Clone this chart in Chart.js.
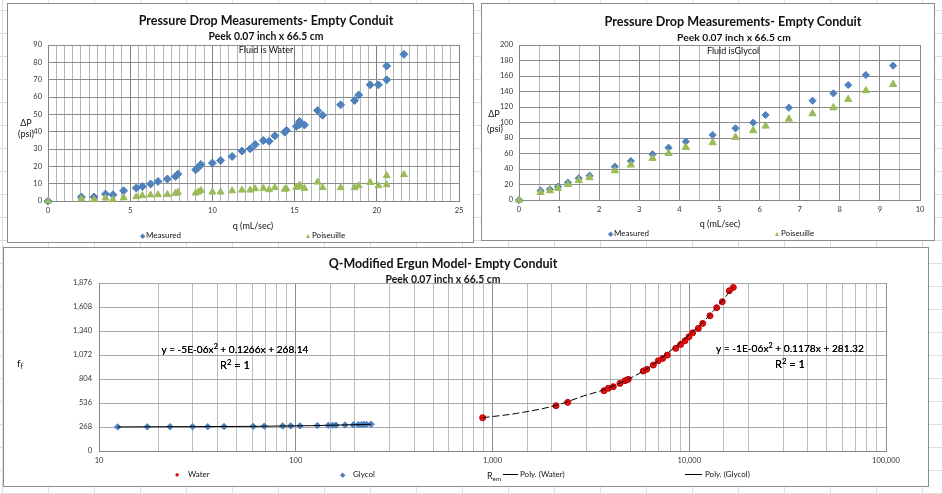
<!DOCTYPE html>
<html><head><meta charset="utf-8">
<script src="https://cdn.jsdelivr.net/npm/chart.js@4.4.1/dist/chart.umd.min.js"></script>
<style>
html,body{margin:0;padding:0}
body{width:942px;height:494px;position:relative;overflow:hidden;background-color:#fff;
background-image:linear-gradient(to right,#dcdcdc 1px,transparent 1px),linear-gradient(to bottom,#dcdcdc 1px,transparent 1px);
background-size:46px 100%,100% 23px;background-position:2px 0,0 10px;font-family:Lato,"Liberation Sans",sans-serif;color:#111}
.box{position:absolute;background:#fff;border:1px solid #8c8c8c;box-sizing:border-box}
canvas{position:absolute}
.t{position:absolute;white-space:nowrap;transform:translate(-50%,-50%);line-height:1}
.l{position:absolute;white-space:nowrap;transform:translate(0,-50%);line-height:1}
.b{font-weight:700}
.eq{color:#000;text-shadow:0 0 0.4px #000}
.ln{position:absolute;height:0;border-top:1px solid #000}
sub{font-size:70%;vertical-align:-2px;line-height:0}
sup{font-size:70%;vertical-align:4px;line-height:0}
</style></head><body>
<div class="box" style="left:7px;top:3px;width:467px;height:240px"></div>
<div class="box" style="left:481px;top:3px;width:454px;height:238px"></div>
<div class="box" style="left:3px;top:247px;width:926px;height:240px"></div>
<canvas id="c1" width="467" height="240" style="left:7px;top:3px"></canvas>
<canvas id="c2" width="454" height="238" style="left:481px;top:3px"></canvas>
<canvas id="c3" width="926" height="240" style="left:3px;top:247px"></canvas>

<!-- chart 1 texts -->
<div class="t b" data-w="255" style="left:266px;top:21px;font-size:13px">Pressure Drop Measurements- Empty Conduit</div>
<div class="t b" data-w="115" style="left:266px;top:36px;font-size:10px">Peek 0.07 inch x 66.5 cm</div>
<div class="t" style="left:266px;top:49px;font-size:9px">Fluid is Water</div>
<div class="t" style="left:26px;top:122px;font-size:9px">ΔP</div>
<div class="t" style="left:26px;top:133px;font-size:9px">(psi)</div>
<div class="t" style="left:253px;top:225px;font-size:9px">q (mL/sec)</div>
<div class="t" style="left:142px;top:235px;font-size:7px;color:#4F81BD">◆</div>
<div class="l" style="left:146px;top:235px;font-size:8px">Measured</div>
<div class="t" style="left:308px;top:235px;font-size:7px;color:#9BBB59">▲</div>
<div class="l" style="left:312px;top:235px;font-size:8px">Poiseuille</div>

<!-- chart 2 texts -->
<div class="t b" data-w="257" style="left:733px;top:22px;font-size:13px">Pressure Drop Measurements- Empty Conduit</div>
<div class="t b" data-w="114" style="left:734px;top:37px;font-size:10px">Peek 0.07 inch x 66.5 cm</div>
<div class="t" style="left:733px;top:50px;font-size:9px">Fluid isGlycol</div>
<div class="t" style="left:494px;top:113px;font-size:9px">ΔP</div>
<div class="t" style="left:495px;top:128px;font-size:9px">(psi)</div>
<div class="t" style="left:720px;top:223px;font-size:9px">q (mL/sec)</div>
<div class="t" style="left:610px;top:233px;font-size:7px;color:#4F81BD">◆</div>
<div class="l" style="left:614px;top:233px;font-size:8px">Measured</div>
<div class="t" style="left:777px;top:233px;font-size:7px;color:#9BBB59">▲</div>
<div class="l" style="left:781px;top:233px;font-size:8px">Poiseuille</div>

<!-- chart 3 texts -->
<div class="t b" data-w="229" style="left:443px;top:264px;font-size:13px">Q-Modified Ergun Model- Empty Conduit</div>
<div class="t b" data-w="115" style="left:443px;top:279px;font-size:10px">Peek 0.07 inch x 66.5 cm</div>
<div class="t" style="left:20px;top:363px;font-size:10px">f<sub>f</sub></div>
<div class="t eq" data-w="147" style="left:235px;top:349px;font-size:11px">y = -5E-06x<sup>2</sup> + 0.1266x + 268.14</div>
<div class="t eq" style="left:235px;top:364px;font-size:11px">R<sup>2</sup> = 1</div>
<div class="t eq" data-w="148" style="left:790px;top:348px;font-size:11px">y = -1E-06x<sup>2</sup> + 0.1178x + 281.32</div>
<div class="t eq" style="left:790px;top:363px;font-size:11px">R<sup>2</sup> = 1</div>
<div class="t" style="left:494px;top:475px;font-size:9px">R<sub>em</sub></div>
<div class="t" style="left:177px;top:474px;font-size:7px;color:#E01010">●</div>
<div class="l" style="left:188px;top:474px;font-size:8px">Water</div>
<div class="t" style="left:342px;top:474px;font-size:7px;color:#4F81BD">◆</div>
<div class="l" style="left:353px;top:474px;font-size:8px">Glycol</div>
<div class="ln" style="left:503px;top:474px;width:15px"></div>
<div class="l" style="left:520px;top:474px;font-size:8px">Poly. (Water)</div>
<div class="ln" style="left:685px;top:474px;width:17px"></div>
<div class="l" style="left:705px;top:474px;font-size:8px">Poly. (Glycol)</div>

<script>
// ---------- data: chart 1 (water) ----------
const waterQ = [0,2.03,2.8,3.5,3.95,4.6,5.37,5.74,6.24,6.69,7.26,7.75,7.9,8.98,9.15,9.3,10.0,10.5,11.2,11.8,12.3,12.6,13.1,13.45,13.8,14.4,14.5,15.1,15.3,15.3,15.6,16.4,16.7,17.8,18.65,18.9,19.6,20.1,20.6,20.6,21.65];
const waterMeasured = [0,2.3,2.3,4.0,3.6,5.9,7.5,8.4,9.8,11.3,12.7,14.2,15.5,18.0,19.5,21.1,21.9,23.4,25.7,28.8,30.1,32.6,34.9,34.5,37.6,39.7,40.7,43.0,44.1,45.9,43.9,52.2,49.5,55.5,58.0,61.2,67.0,67.0,69.9,77.9,84.6];
const waterPoiseuille = [0,1.2,0.8,1.7,0.8,1.9,2.5,3.1,3.5,3.6,3.8,4.4,5.0,4.6,5.2,6.1,5.2,5.2,5.9,6.3,6.3,7.1,7.3,6.5,7.7,6.8,7.1,7.9,8.4,9.2,7.3,10.9,7.7,7.7,7.7,8.8,10.7,8.8,9.4,14.6,15.2];
const waterXTicks = [0,5,10,15,20,25];
const waterYTicks = [0,10,20,30,40,50,60,70,80,90];

// ---------- data: chart 2 (glycol) ----------
const glycolQ = [0,0.54,0.77,0.97,1.22,1.49,1.76,2.39,2.79,3.33,3.73,4.16,4.83,5.4,5.84,6.15,6.73,7.32,7.84,8.21,8.65,9.33];
const glycolMeasured = [0,12.0,13.8,17.2,22.4,28.0,31.4,43.0,50.3,58.9,67.5,75.3,83.9,92.5,99.8,109.7,119.1,128.2,137.6,148.4,161.3,173.3];
const glycolPoiseuille = [0,9.9,12.0,15.1,20.2,25.4,28.8,37.8,45.2,53.8,60.2,68.0,74.0,80.9,89.5,95.5,104.5,111.4,119.1,129.9,141.1,149.2];
const glycolXTicks = [0,1,2,3,4,5,6,7,8,9,10];
const glycolYTicks = [0,20,40,60,80,100,120,140,160,180,200];

// ---------- data: chart 3 (Q-modified Ergun) ----------
const ergunWaterRe = [891,2102,2412,3687,3878,4112,4446,4714,4900,5840,6075,6566,6961,7328,7734,8533,9047,9515,9970,10411,11117,11705,12748,13789,14723,15979,16749];
const ergunWaterF = [372,506,543,673,700,718,755,785,800,893,912,960,1008,1034,1071,1146,1190,1231,1276,1320,1369,1425,1510,1600,1667,1789,1827];
const ergunGlycolRe = [12.45,17.6,22.96,29.9,35.7,43.2,60.8,69.2,85.8,94.3,105.1,128.7,146.4,154.1,160.2,178.0,196.1,207.9,216.4,222.3,229.4,241.3];
const ergunGlycolF = [269,270,271,272,272,273,275,277,279,280,281,284,286,287,288,290,292,294,295,296,297,298];
const ergunWaterTrendRe = [891,1327,2134,2894,3646,5000,6317,8299,11340,14330,16750];
const ergunWaterTrendF = [372,420,513,614,681,811,941,1146,1406,1648,1830];
const ergunGlycolTrendRe = [12.45,60,120,241.3];
const ergunGlycolTrendF = [269,275,283,298];
const ergunXTicks = [10,100,1000,10000,100000];
const ergunXLabels = ['10','100','1,000','10,000','100,000'];
const ergunYLabels = ['0','268','536','804','1,072','1,340','1,608','1,876'];

// fit title widths
document.querySelectorAll('[data-w]').forEach(el=>{
  const w=+el.dataset.w, r=el.getBoundingClientRect().width, fs=parseFloat(getComputedStyle(el).fontSize);
  if(r>0) el.style.fontSize=(fs*w/r)+'px';
});

const BLUE='#4F81BD', GREEN='#9BBB59', RED='#E01010';
const FONT='Lato';
const pts=(xs,ys)=>xs.map((x,i)=>({x:x,y:ys[i]}));
const near=(arr,v)=>arr.findIndex(t=>Math.abs(t-v)<=Math.abs(t)*1e-6+1e-9);
const tickFont={size:7.5,family:FONT};
const base={responsive:false,animation:false,events:[],plugins:{legend:{display:false},tooltip:{enabled:false}}};

new Chart(document.getElementById('c1'),{
  type:'scatter',
  data:{datasets:[
    {label:'Poiseuille',data:pts(waterQ,waterPoiseuille),pointStyle:'triangle',pointRadius:4,backgroundColor:GREEN,borderColor:GREEN,borderWidth:1,clip:false,order:0},
    {label:'Measured',data:pts(waterQ,waterMeasured),pointStyle:'rectRot',pointRadius:4,backgroundColor:BLUE,borderColor:BLUE,borderWidth:1,clip:false,order:1}
  ]},
  options:Object.assign({},base,{
    layout:{padding:{left:0,top:42,right:15,bottom:0}},
    scales:{
      x:{type:'linear',min:0,max:25,afterFit:s=>{s.height=42;},
        ticks:{stepSize:0.5,autoSkip:false,maxRotation:0,padding:5,font:tickFont,color:'#333',callback:v=>near(waterXTicks,v)>=0?String(v):''},
        grid:{drawTicks:false,color:c=>(c.tick&&near(waterXTicks,c.tick.value)>=0)?'#7f7f7f':'#b4b4b4'},
        border:{color:'#868686'}},
      y:{min:0,max:90,afterFit:s=>{s.width=41;},
        ticks:{stepSize:10,padding:6,font:tickFont,color:'#333',callback:v=>near(waterYTicks,v)>=0?String(v):''},
        grid:{drawTicks:false,color:'#8c8c8c'},border:{color:'#868686'}}
    }
  })
});

new Chart(document.getElementById('c2'),{
  type:'scatter',
  data:{datasets:[
    {label:'Poiseuille',data:pts(glycolQ,glycolPoiseuille),pointStyle:'triangle',pointRadius:4.2,backgroundColor:GREEN,borderColor:GREEN,borderWidth:1,clip:false,order:0},
    {label:'Measured',data:pts(glycolQ,glycolMeasured),pointStyle:'rectRot',pointRadius:3.6,backgroundColor:BLUE,borderColor:BLUE,borderWidth:1,clip:false,order:1}
  ]},
  options:Object.assign({},base,{
    layout:{padding:{left:0,top:42,right:15,bottom:0}},
    scales:{
      x:{type:'linear',min:0,max:10,afterFit:s=>{s.height=41;},
        ticks:{stepSize:0.5,autoSkip:false,maxRotation:0,padding:5,font:tickFont,color:'#333',callback:v=>near(glycolXTicks,v)>=0?String(v):''},
        grid:{drawTicks:false,color:c=>(c.tick&&near(glycolXTicks,c.tick.value)>=0)?'#8a8a8a':'#b8b8b8'},
        border:{color:'#868686'}},
      y:{min:0,max:200,afterFit:s=>{s.width=38;},
        ticks:{stepSize:20,padding:6,font:tickFont,color:'#333',callback:v=>near(glycolYTicks,v)>=0?String(v):''},
        grid:{drawTicks:false,color:'#8c8c8c'},border:{color:'#868686'}}
    }
  })
});

new Chart(document.getElementById('c3'),{
  type:'scatter',
  data:{datasets:[
    {label:'Poly. (Water)',data:pts(ergunWaterTrendRe,ergunWaterTrendF),showLine:true,pointRadius:0,borderColor:'#000',borderWidth:1,borderDash:[7,3],cubicInterpolationMode:'monotone',clip:false,order:0},
    {label:'Poly. (Glycol)',data:pts(ergunGlycolTrendRe,ergunGlycolTrendF),showLine:true,pointRadius:0,borderColor:'#000',borderWidth:1,clip:false,order:1},
    {label:'Water',data:pts(ergunWaterRe,ergunWaterF),pointStyle:'circle',pointRadius:3,backgroundColor:RED,borderColor:'#C00000',borderWidth:1,clip:false,order:2},
    {label:'Glycol',data:pts(ergunGlycolRe,ergunGlycolF),pointStyle:'rectRot',pointRadius:3.2,backgroundColor:BLUE,borderColor:BLUE,borderWidth:1,clip:false,order:3}
  ]},
  options:Object.assign({},base,{
    layout:{padding:{left:0,top:36,right:43,bottom:0}},
    scales:{
      x:{type:'logarithmic',min:10,max:100000,afterFit:s=>{s.height=36;},
        ticks:{autoSkip:false,maxRotation:0,padding:5,font:tickFont,color:'#333',callback:v=>{const i=near(ergunXTicks,v);return i>=0?ergunXLabels[i]:'';}},
        grid:{drawTicks:false,color:c=>(c.tick&&near(ergunXTicks,c.tick.value)>=0)?'#8c8c8c':'#bcbcbc'},
        border:{color:'#868686'}},
      y:{min:0,max:1876,afterFit:s=>{s.width=96;},
        ticks:{stepSize:268,padding:7,font:tickFont,color:'#333',callback:(v,i)=>ergunYLabels[i]!==undefined?ergunYLabels[i]:''},
        grid:{drawTicks:false,color:'#a8a8a8'},border:{color:'#868686'}}
    }
  })
});
</script>
</body></html>
